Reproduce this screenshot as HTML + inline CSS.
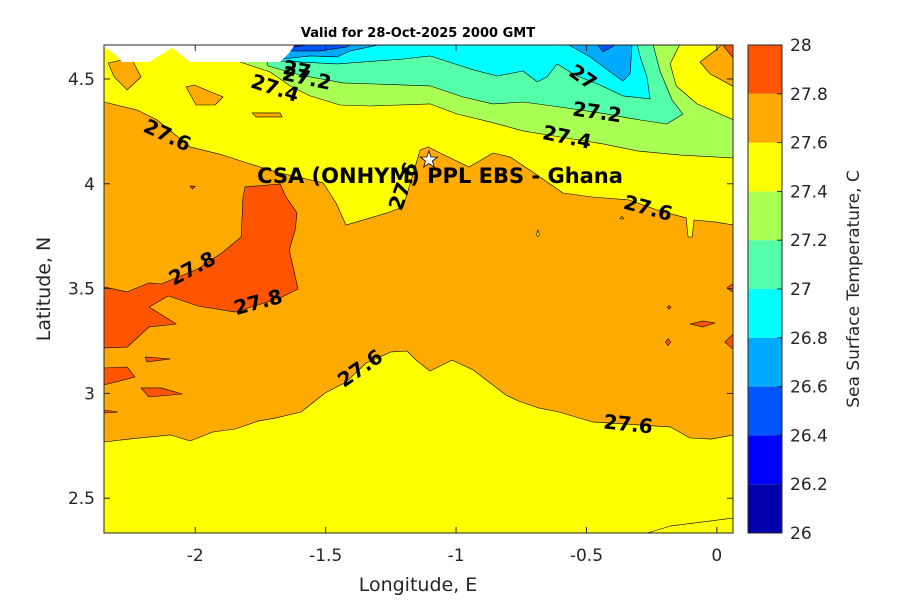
<!DOCTYPE html>
<html><head><meta charset="utf-8"><title>SST chart</title>
<style>
html,body{margin:0;padding:0;background:#fff;}
svg{display:block;font-family:"DejaVu Sans","Liberation Sans",sans-serif;}
</style></head>
<body>
<svg id="chart" width="900" height="600" viewBox="0 0 900 600">
<rect width="900" height="600" fill="#fff"/>
<defs><clipPath id="pc"><rect x="104" y="45" width="629" height="488"/></clipPath></defs>
<g id="fills" clip-path="url(#pc)"></g>
<g id="labels" clip-path="url(#pc)"></g>
<g id="axes"></g>
<g id="cbar"></g>
<text x="418" y="37" text-anchor="middle" font-size="13" font-weight="bold" fill="#000">Valid for 28-Oct-2025 2000 GMT</text>
<text x="418" y="591" text-anchor="middle" font-size="19" fill="#262626">Longitude, E</text>
<text transform="translate(50,289) rotate(-90)" text-anchor="middle" font-size="19" fill="#262626">Latitude, N</text>
<text transform="translate(859,289) rotate(-90)" text-anchor="middle" font-size="17" fill="#262626">Sea Surface Temperature, C</text>
</svg>
<script>
// Axis domain
const lonRange = [-2.35, 0.062];
const latRange = [2.334, 4.662];
const xTicks = [-2, -1.5, -1, -0.5, 0];
const xTickLabels = ["-2", "-1.5", "-1", "-0.5", "0"];
const yTicks = [2.5, 3, 3.5, 4, 4.5];
const yTickLabels = ["2.5", "3", "3.5", "4", "4.5"];
// Colour levels
const levels = [26, 26.2, 26.4, 26.6, 26.8, 27, 27.2, 27.4, 27.6, 27.8, 28];
const levelLabels = ["26","26.2","26.4","26.6","26.8","27","27.2","27.4","27.6","27.8","28"];
const levelColors = ["#0000aa","#0000ff","#0055ff","#00aaff","#00ffff","#55ffaa","#aaff55","#ffff00","#ffaa00","#ff5500"];

// Contour region polygons: [lon, lat] vertices, bin = lower level of band
const regionBins = [27.4, 27.6, 27.8, 27.6,27.6,27.6, 27.2, 27.0, 26.8, 26.6, 26.4, 26.6, 26.4, 26.2,
  27.8,27.8,27.8,27.8,27.8,27.8,27.8,27.8,27.8,27.8, 27.4,27.4,27.4, 27.6, 27.8, -1];
const regionPolys = [
  [[-2.35,4.662],[0.062,4.662],[0.062,2.334],[-2.35,2.334]],
  [[-2.350,4.390],[-2.223,4.352],[-2.146,4.304],[-2.020,4.176],[-1.893,4.137],[-1.801,4.099],[-1.690,4.056],[-1.510,4.004],[-1.460,3.908],[-1.422,3.803],[-1.264,3.861],[-1.203,3.889],[-1.172,4.018],[-1.138,4.161],[-1.107,4.176],[-1.061,4.147],[-0.950,4.080],[-0.858,4.147],[-0.793,4.128],[-0.701,4.052],[-0.590,3.956],[-0.478,3.937],[-0.337,3.923],[-0.229,3.875],[-0.118,3.837],[-0.110,3.746],[-0.095,3.746],[-0.087,3.827],[-0.007,3.818],[0.066,3.803],
   [0.066,2.802],[-0.022,2.782],[-0.103,2.787],[-0.179,2.840],[-0.478,2.864],[-0.605,2.911],[-0.682,2.930],[-0.762,2.964],[-0.808,2.992],[-0.935,3.112],[-1.015,3.159],[-1.100,3.107],[-1.153,3.159],[-1.188,3.202],[-1.249,3.198],[-1.345,3.145],[-1.422,3.054],[-1.502,3.002],[-1.594,2.911],[-1.690,2.883],[-1.759,2.868],[-1.847,2.830],[-1.932,2.816],[-2.020,2.773],[-2.096,2.802],[-2.254,2.782],[-2.350,2.768]],
  [[-1.809,3.985],[-1.675,3.999],[-1.652,3.937],[-1.610,3.861],[-1.617,3.780],[-1.640,3.684],[-1.606,3.498],[-1.675,3.455],[-1.847,3.388],[-1.989,3.417],[-2.104,3.465],[-2.177,3.412],[-2.073,3.331],[-2.177,3.317],[-2.261,3.221],[-2.350,3.217],[-2.350,3.508],[-2.261,3.484],[-2.177,3.527],[-2.131,3.522],[-1.989,3.594],[-1.893,3.675],[-1.824,3.746],[-1.817,3.937]],
  [[-2.334,4.576],[-2.246,4.600],[-2.208,4.510],[-2.261,4.448],[-2.311,4.510]],
  [[-2.035,4.462],[-2.004,4.471],[-1.893,4.414],[-1.924,4.376],[-1.997,4.376]],
  [[-1.782,4.338],[-1.675,4.338],[-1.667,4.319],[-1.767,4.319]],
  [[-1.828,4.581],[-1.713,4.533],[-1.636,4.467],[-1.560,4.419],[-1.445,4.376],[-1.330,4.371],[-1.100,4.381],[-0.996,4.333],[-0.870,4.295],[-0.743,4.252],[-0.601,4.223],[-0.436,4.190],[-0.306,4.157],[-0.141,4.137],[0.066,4.123],[0.066,4.304],[-0.076,4.381],[-0.156,4.467],[-0.179,4.572],[-0.141,4.667],[-1.828,4.667]],
  [[-1.744,4.667],[-1.721,4.562],[-1.598,4.519],[-1.433,4.481],[-1.100,4.467],[-0.973,4.414],[-0.858,4.381],[-0.743,4.390],[-0.601,4.366],[-0.448,4.338],[-0.294,4.304],[-0.191,4.285],[-0.130,4.333],[-0.172,4.400],[-0.218,4.538],[-0.245,4.667]],
  [[-1.690,4.667],[-1.675,4.586],[-1.456,4.572],[-1.203,4.595],[-1.100,4.610],[-0.946,4.548],[-0.843,4.514],[-0.743,4.538],[-0.689,4.486],[-0.651,4.510],[-0.613,4.572],[-0.544,4.519],[-0.448,4.471],[-0.360,4.419],[-0.256,4.405],[-0.268,4.510],[-0.294,4.605],[-0.306,4.667]],
  [[-0.574,4.667],[-0.486,4.605],[-0.398,4.524],[-0.360,4.490],[-0.333,4.524],[-0.325,4.667]],
  [[-0.459,4.667],[-0.383,4.667],[-0.436,4.629]],
  [[-1.690,4.667],[-1.664,4.595],[-1.560,4.610],[-1.456,4.605],[-1.406,4.634],[-1.280,4.667]],
  [[-1.656,4.667],[-1.636,4.634],[-1.522,4.634],[-1.418,4.653],[-1.395,4.667]],
  [[-1.629,4.653],[-1.617,4.667],[-1.533,4.667]],
  [[-2.350,3.121],[-2.261,3.126],[-2.231,3.078],[-2.350,3.040]],
  [[-2.192,3.174],[-2.096,3.164],[-2.185,3.150]],
  [[-2.208,3.026],[-2.131,3.026],[-2.050,2.997],[-2.177,2.983]],
  [[-2.350,2.921],[-2.296,2.911],[-2.350,2.907]],
  [[0.039,3.503],[0.066,3.527],[0.066,3.479]],
  [[0.031,3.245],[0.066,3.288],[0.066,3.207]],
  [[-0.103,3.331],[-0.053,3.345],[-0.007,3.336],[-0.053,3.317]],
  [[-0.197,3.245],[-0.187,3.262],[-0.177,3.245],[-0.187,3.228]],
  [[-0.190,3.411],[-0.183,3.420],[-0.176,3.411],[-0.183,3.402]],
  [[-2.020,3.990],[-2.000,3.988],[-2.011,3.975]],
  [[-0.692,3.757],[-0.686,3.780],[-0.680,3.757],[-0.686,3.748]],
  [[-0.372,3.833],[-0.364,3.845],[-0.356,3.833]],
  [[-0.267,2.334],[-0.179,2.367],[0.066,2.406],[0.066,2.334]],
  [[-0.064,4.581],[0.001,4.643],[0.020,4.667],[0.066,4.667],[0.066,4.462],[-0.026,4.524]],
  [[0.020,4.667],[0.066,4.667],[0.066,4.595]],
  [[-2.35,4.667],[-2.35,4.653],[-2.304,4.615],[-2.281,4.581],[-2.177,4.581],[-2.089,4.648],[-2.020,4.581],[-1.675,4.581],[-1.640,4.624],[-1.617,4.667]]
];
// Contour labels (angle: positive = clockwise on screen)
const labelTexts = ["27.6","27.4","27.2","27","27","27.2","27.4","27.6","27.6","27.8","27.8","27.6","27.6"];
const labelLons = [-2.107,-1.694,-1.572,-1.610,-0.513,-0.459,-0.574,-0.264,-1.203,-2.012,-1.759,-1.368,-0.340];
const labelLats = [4.232,4.457,4.505,4.545,4.510,4.343,4.223,3.885,3.989,3.597,3.436,3.120,2.854];
const labelAngles = [25,18,12,12,35,8,12,15,-70,-28,-15,-35,6];
// Site marker
const siteLon = -1.104, siteLat = 4.114;
const siteName = "CSA (ONHYM) PPL EBS  - Ghana";

const PX = [104, 733], PY = [533, 45];
function xs(lon){ return PX[0] + (lon - lonRange[0]) / (lonRange[1] - lonRange[0]) * (PX[1] - PX[0]); }
function ys(lat){ return PY[0] + (lat - latRange[0]) / (latRange[1] - latRange[0]) * (PY[1] - PY[0]); }
function colorFor(bin){
  if (bin < 0) return "#ffffff";
  for (let i = 0; i < levelColors.length; i++) if (Math.abs(levels[i] - bin) < 1e-6) return levelColors[i];
  return "#ffffff";
}
const NS = "http://www.w3.org/2000/svg";
const fills = document.getElementById("fills");
regionPolys.forEach((poly, i) => {
  const p = document.createElementNS(NS, "polygon");
  p.setAttribute("points", poly.map(v => xs(v[0]).toFixed(1) + "," + ys(v[1]).toFixed(1)).join(" "));
  p.setAttribute("fill", colorFor(regionBins[i]));
  p.setAttribute("stroke", regionBins[i] < 0 || i === 0 ? "none" : "#000");
  p.setAttribute("stroke-width", "0.6");
  p.setAttribute("stroke-linejoin", "round");
  
  
  fills.appendChild(p);
});
const labels = document.getElementById("labels");
labelTexts.forEach((t, i) => {
  const el = document.createElementNS(NS, "text");
  const x = xs(labelLons[i]), y = ys(labelLats[i]);
  el.setAttribute("transform", "translate(" + x.toFixed(1) + "," + y.toFixed(1) + ") rotate(" + labelAngles[i] + ")");
  el.setAttribute("text-anchor", "middle");
  el.setAttribute("dominant-baseline", "central");
  el.setAttribute("font-size", "20");
  el.setAttribute("font-weight", "bold");
  el.textContent = t;
  
  
  labels.appendChild(el);
});
// site marker + name
const sx = xs(siteLon), sy = ys(siteLat);
const site = document.createElementNS(NS, "text");
site.setAttribute("x", 440); site.setAttribute("y", sy + 23);
site.setAttribute("text-anchor", "middle");
site.setAttribute("font-size", "21"); site.setAttribute("font-weight", "bold");
site.setAttribute("xml:space", "preserve");
site.textContent = siteName;


labels.appendChild(site);
const star = document.createElementNS(NS, "polygon");
let pts = [];
for (let k = 0; k < 10; k++) { const r = k % 2 ? 3.6 : 9; const a = -Math.PI/2 + k*Math.PI/5; pts.push((sx + r*Math.cos(a)).toFixed(1) + "," + (sy + r*Math.sin(a)).toFixed(1)); }
star.setAttribute("points", pts.join(" "));
star.setAttribute("fill", "#fff"); star.setAttribute("stroke", "#000"); star.setAttribute("stroke-width", "0.8");


labels.appendChild(star);

// axes
const axes = document.getElementById("axes");
const box = document.createElementNS(NS, "rect");
box.setAttribute("x", 104); box.setAttribute("y", 45); box.setAttribute("width", 629); box.setAttribute("height", 488);
box.setAttribute("fill", "none"); box.setAttribute("stroke", "#262626"); box.setAttribute("stroke-width", "1");


axes.appendChild(box);
xTicks.forEach((v, i) => {
  const x = xs(v);
  [[533, 527], [45, 51]].forEach(pr => {
    const l = document.createElementNS(NS, "line");
    l.setAttribute("x1", x); l.setAttribute("x2", x); l.setAttribute("y1", pr[0]); l.setAttribute("y2", pr[1]);
    l.setAttribute("stroke", "#262626");
    
    
    axes.appendChild(l);
  });
  const t = document.createElementNS(NS, "text");
  t.setAttribute("x", x); t.setAttribute("y", 561); t.setAttribute("text-anchor", "middle");
  t.setAttribute("font-size", "17"); t.setAttribute("fill", "#262626");
  t.textContent = xTickLabels[i];
  
  
  axes.appendChild(t);
});
yTicks.forEach((v, i) => {
  const y = ys(v);
  [[104, 110], [733, 727]].forEach(pr => {
    const l = document.createElementNS(NS, "line");
    l.setAttribute("x1", pr[0]); l.setAttribute("x2", pr[1]); l.setAttribute("y1", y); l.setAttribute("y2", y);
    l.setAttribute("stroke", "#262626");
    
    
    axes.appendChild(l);
  });
  const t = document.createElementNS(NS, "text");
  t.setAttribute("x", 95); t.setAttribute("y", y + 6); t.setAttribute("text-anchor", "end");
  t.setAttribute("font-size", "17"); t.setAttribute("fill", "#262626");
  t.textContent = yTickLabels[i];
  
  
  axes.appendChild(t);
});
// colorbar
const cbar = document.getElementById("cbar");
const CB = {x: 748, w: 34, top: 45, bot: 533};
function cy(v){ return CB.bot - (v - levels[0]) / (levels[levels.length-1] - levels[0]) * (CB.bot - CB.top); }
levelColors.forEach((c, i) => {
  const r = document.createElementNS(NS, "rect");
  r.setAttribute("x", CB.x); r.setAttribute("width", CB.w);
  r.setAttribute("y", cy(levels[i+1])); r.setAttribute("height", cy(levels[i]) - cy(levels[i+1]));
  r.setAttribute("fill", c);
  
  
  cbar.appendChild(r);
});
const cbox = document.createElementNS(NS, "rect");
cbox.setAttribute("x", CB.x); cbox.setAttribute("y", CB.top); cbox.setAttribute("width", CB.w); cbox.setAttribute("height", CB.bot - CB.top);
cbox.setAttribute("fill", "none"); cbox.setAttribute("stroke", "#262626");


cbar.appendChild(cbox);
levels.forEach((v, i) => {
  const y = cy(v);
  const l = document.createElementNS(NS, "line");
  l.setAttribute("x1", CB.x + CB.w - 5); l.setAttribute("x2", CB.x + CB.w); l.setAttribute("y1", y); l.setAttribute("y2", y);
  l.setAttribute("stroke", "#262626");
  
  
  cbar.appendChild(l);
  const t = document.createElementNS(NS, "text");
  t.setAttribute("x", 790); t.setAttribute("y", y + 6);
  t.setAttribute("font-size", "17"); t.setAttribute("fill", "#262626");
  t.textContent = levelLabels[i];
  
  
  cbar.appendChild(t);
});
</script>
</body></html>
